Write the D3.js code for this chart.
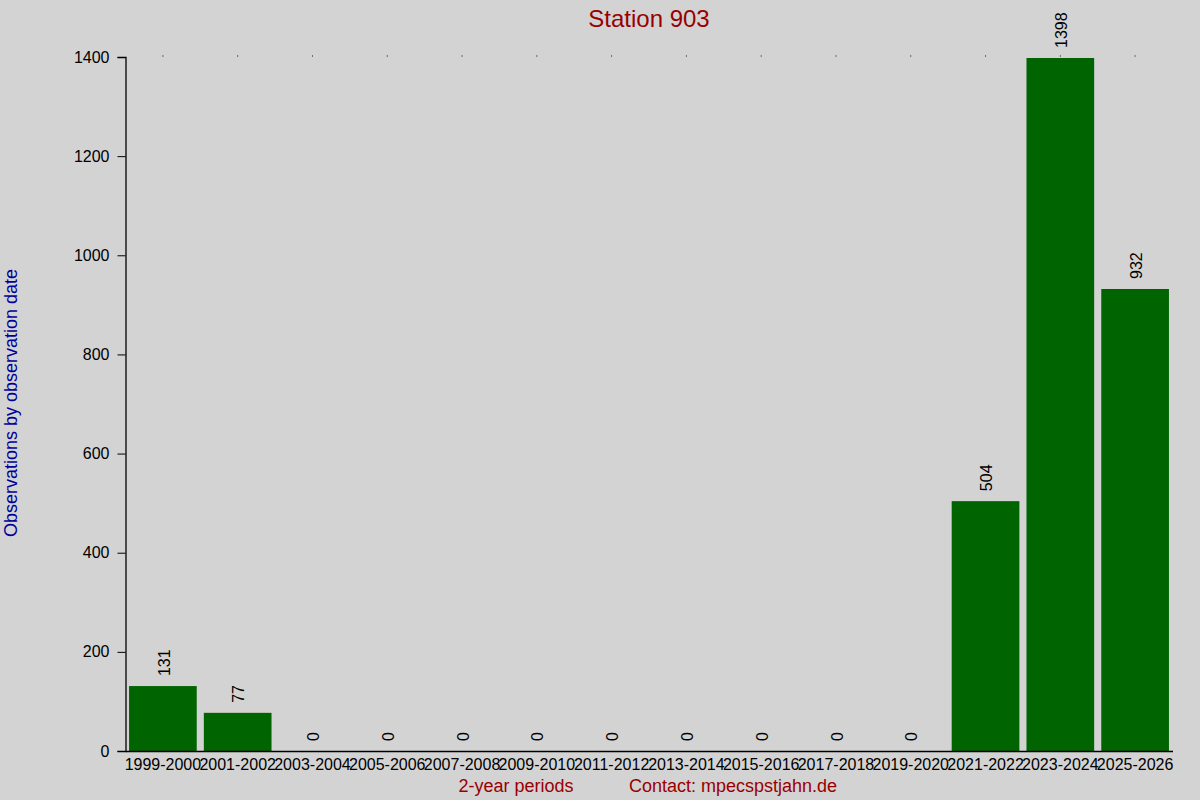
<!DOCTYPE html>
<html>
<head>
<meta charset="utf-8">
<script src="https://cdn.jsdelivr.net/npm/d3@7"></script>
<style>
  body { margin: 0; background: #d3d3d3; }
  svg { display: block; font-family: "Liberation Sans", Arial, sans-serif; }
</style>
</head>
<body>
<script>
// data
var periods = ["1999-2000", "2001-2002", "2003-2004", "2005-2006", "2007-2008",
  "2009-2010", "2011-2012", "2013-2014", "2015-2016", "2017-2018",
  "2019-2020", "2021-2022", "2023-2024", "2025-2026"];
var counts = [131, 77, 0, 0, 0, 0, 0, 0, 0, 0, 0, 504, 1398, 932];
var yTicks = [0, 200, 400, 600, 800, 1000, 1200, 1400];

var w = 1200, h = 800;
var plotLeft = 125.5, plotRight = 1172.5, plotTop = 57, plotBottom = 751;

var svg = d3.select("body").append("svg")
  .attr("width", w)
  .attr("height", h);

svg.append("rect").attr("width", w).attr("height", h).attr("fill", "#d3d3d3");

var x = d3.scaleBand()
  .domain(periods)
  .range([plotLeft, plotRight])
  .paddingInner(0.095)
  .paddingOuter(0.0475);

var y = d3.scaleLinear()
  .domain([0, 1400])
  .range([plotBottom, plotTop]);

// bars
svg.selectAll("rect.bar")
  .data(counts)
  .enter()
  .append("rect")
  .attr("class", "bar")
  .attr("x", function(d, i) { return x(periods[i]); })
  .attr("y", function(d) { return y(d); })
  .attr("width", x.bandwidth())
  .attr("height", function(d) { return plotBottom - y(d); })
  .attr("fill", "#006400");

// little dots along the top
svg.selectAll("rect.dot")
  .data(periods)
  .enter()
  .append("rect")
  .attr("class", "dot")
  .attr("x", function(d) { return x(d) + x.bandwidth() / 2 - 0.5; })
  .attr("y", y(1400) - 1.5)
  .attr("width", 1)
  .attr("height", 1)
  .attr("fill", "#000");

// value labels
svg.selectAll("text.val")
  .data(counts)
  .enter()
  .append("text")
  .attr("class", "val")
  .attr("transform", function(d, i) {
    return "translate(" + (x(periods[i]) + x.bandwidth() / 2 + 1) + "," + (y(d) - 10) + ") rotate(-90)";
  })
  .attr("dy", "0.35em")
  .attr("font-size", 16)
  .attr("fill", "#000")
  .text(function(d) { return d; });

// y axis
var yAxis = d3.axisLeft(y).tickValues(yTicks).tickFormat(d3.format("d")).tickSize(8).tickPadding(8);
var gy = svg.append("g").attr("transform", "translate(" + plotLeft + ",0)").call(yAxis);
gy.select(".domain").attr("stroke", "#000").attr("stroke-width", 1.3);
gy.selectAll(".tick line").attr("stroke", "#000");
gy.selectAll(".tick text").attr("font-size", 16).attr("font-family", "Liberation Sans, Arial, sans-serif").attr("fill", "#000");

// x axis
var xAxis = d3.axisBottom(x).tickSize(0).tickPadding(8);
var gx = svg.append("g").attr("transform", "translate(0," + plotBottom + ")").call(xAxis);
gx.select(".domain").attr("stroke", "#000").attr("stroke-width", 1.3);
gx.selectAll(".tick text").attr("font-size", 16).attr("font-family", "Liberation Sans, Arial, sans-serif").attr("fill", "#000");

// titles
svg.append("text")
  .attr("x", 649).attr("y", 27)
  .attr("text-anchor", "middle")
  .attr("font-size", 24)
  .attr("fill", "#990000")
  .text("Station 903");

svg.append("text")
  .attr("transform", "translate(17,403) rotate(-90)")
  .attr("text-anchor", "middle")
  .attr("font-size", 18)
  .attr("fill", "#00009b")
  .text("Observations by observation date");

svg.append("text")
  .attr("x", 516).attr("y", 792)
  .attr("text-anchor", "middle")
  .attr("font-size", 18)
  .attr("fill", "#990000")
  .text("2-year periods");

svg.append("text")
  .attr("x", 733).attr("y", 792)
  .attr("text-anchor", "middle")
  .attr("font-size", 18)
  .attr("fill", "#990000")
  .text("Contact: mpecspstjahn.de");
</script>
</body>
</html>
